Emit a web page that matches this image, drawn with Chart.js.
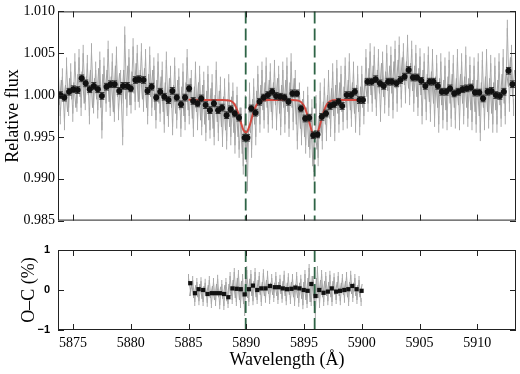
<!DOCTYPE html>
<html>
<head>
<meta charset="utf-8">
<script src="https://cdn.jsdelivr.net/npm/chart.js@4.4.1/dist/chart.umd.min.js"></script>
<style>
  html, body { margin: 0; padding: 0; background: #fff; }
  #wrap { position: relative; width: 520px; height: 374px; }
  #fluxChart { position: absolute; left: 0; top: 0; }
  #ocChart { position: absolute; left: 0; top: 232px; }
</style>
</head>
<body>
<div id="wrap">
  <canvas id="fluxChart" width="520" height="232"></canvas>
  <canvas id="ocChart" width="520" height="142"></canvas>
</div>
<script>
// axis ranges and ticks
const xMin = 5873.7, xMax = 5913.35;
const xTicks = [5875, 5880, 5885, 5890, 5895, 5900, 5905, 5910];
const fluxTicks = [0.985, 0.990, 0.995, 1.000, 1.005, 1.010];
const ocTicks = [-1, 0, 1];
const naLines = [5889.95, 5895.92];

// high resolution spectrum (grey): two interleaved samplings, 0.18 A apart each
const specStart = 5873.72, specStep = 0.18, specShift = 0.09;
const specFlux = [
  1.0030, 0.9975, 1.0022, 0.9968, 1.0035, 0.9985, 1.0028, 0.9978, 1.0040, 0.9990,
  1.0045, 0.9985, 1.0050, 0.9992, 1.0038, 0.9975, 1.0052, 0.9988, 1.0030, 0.9982,
  1.0042, 0.9958, 1.0035, 0.9990, 1.0055, 0.9985, 1.0040, 0.9978, 1.0048, 0.9980,
  1.0020, 0.9950, 1.0072, 0.9985, 1.0045, 0.9988, 1.0058, 0.9992, 1.0050, 0.9995,
  1.0052, 0.9990, 1.0045, 0.9975, 1.0048, 0.9985, 1.0035, 0.9970, 1.0040, 0.9978,
  1.0030, 0.9965, 1.0042, 0.9972, 1.0025, 0.9962, 1.0035, 0.9970, 1.0022, 0.9960,
  1.0028, 0.9968, 1.0045, 0.9975, 1.0020, 0.9960, 1.0030, 0.9968, 1.0025, 0.9962,
  1.0018, 0.9955, 1.0025, 0.9958, 1.0015, 0.9950, 1.0030, 0.9955, 1.0012, 0.9948,
  1.0010, 0.9945, 1.0015, 0.9950, 1.0005, 0.9940, 1.0000, 0.9935, 0.9975, 0.9915,
  0.9990, 0.9895, 1.0005, 0.9935, 1.0010, 0.9950, 1.0025, 0.9965, 1.0030, 0.9970,
  1.0035, 0.9965, 1.0028, 0.9970, 1.0032, 0.9968, 1.0025, 0.9962, 1.0030, 0.9965,
  1.0035, 0.9960, 1.0040, 0.9968, 1.0020, 0.9945, 1.0005, 0.9950, 0.9995, 0.9940,
  1.0000, 0.9935, 0.9985, 0.9908, 0.9990, 0.9925, 1.0005, 0.9945, 1.0010, 0.9955,
  1.0020, 0.9960, 1.0028, 0.9955, 1.0032, 0.9965, 1.0025, 0.9968, 1.0035, 0.9970,
  1.0040, 0.9972, 1.0030, 0.9965, 1.0025, 0.9962, 1.0025, 0.9975, 1.0045, 0.9990,
  1.0052, 0.9990, 1.0048, 0.9985, 1.0045, 0.9978, 1.0042, 0.9988, 1.0050, 0.9985,
  1.0048, 0.9982, 1.0055, 0.9990, 1.0060, 0.9995, 1.0052, 1.0000, 1.0062, 0.9998,
  1.0055, 0.9990, 1.0050, 0.9985, 1.0046, 0.9975, 1.0040, 0.9980, 1.0048, 0.9978,
  1.0045, 0.9972, 1.0038, 0.9965, 1.0040, 0.9970, 1.0035, 0.9968, 1.0042, 0.9972,
  1.0038, 0.9970, 1.0045, 0.9968, 1.0040, 0.9975, 1.0048, 0.9972, 1.0036, 0.9968,
  1.0035, 0.9965, 1.0040, 0.9955, 1.0042, 0.9968, 1.0045, 0.9970, 1.0038, 0.9965,
  1.0035, 0.9965, 1.0040, 0.9972, 1.0045, 0.9975, 1.0080, 0.9990, 1.0050, 0.9985
];
const specFluxB = [
  0.9988, 1.0018, 0.9992, 1.0012, 0.9980, 1.0020, 0.9995, 1.0015, 0.9985, 1.0025,
  0.9998, 1.0028, 0.9990, 1.0022, 1.0000, 1.0030, 0.9985, 1.0020, 0.9995, 1.0032,
  0.9985, 1.0025, 1.0000, 1.0030, 0.9992, 1.0022, 0.9980, 1.0035, 0.9998, 1.0026,
  0.9990, 1.0030, 0.9995, 1.0035, 0.9988, 1.0028, 1.0002, 1.0038, 0.9992, 1.0030,
  0.9995, 1.0032, 0.9985, 1.0025, 0.9998, 1.0030, 0.9982, 1.0018, 0.9990, 1.0022,
  0.9980, 1.0015, 0.9975, 1.0020, 0.9985, 1.0012, 0.9978, 1.0018, 0.9982, 1.0010,
  0.9975, 1.0015, 0.9982, 1.0020, 0.9972, 1.0010, 0.9980, 1.0015, 0.9970, 1.0012,
  0.9965, 1.0005, 0.9970, 1.0008, 0.9960, 1.0000, 0.9968, 1.0005, 0.9962, 0.9998,
  0.9958, 0.9995, 0.9962, 0.9998, 0.9955, 0.9990, 0.9950, 0.9985, 0.9930, 0.9965,
  0.9920, 0.9962, 0.9955, 0.9995, 0.9965, 1.0005, 0.9975, 1.0012, 0.9982, 1.0015,
  0.9985, 1.0018, 0.9980, 1.0015, 0.9988, 1.0020, 0.9978, 1.0012, 0.9985, 1.0018,
  0.9980, 1.0015, 0.9985, 1.0020, 0.9965, 1.0002, 0.9960, 0.9995, 0.9950, 0.9985,
  0.9938, 0.9970, 0.9915, 0.9958, 0.9935, 0.9975, 0.9955, 0.9992, 0.9965, 1.0000,
  0.9972, 1.0008, 0.9975, 1.0012, 0.9978, 1.0015, 0.9980, 1.0010, 0.9985, 1.0018,
  0.9982, 1.0015, 0.9978, 1.0012, 0.9980, 1.0010, 0.9985, 1.0020, 0.9998, 1.0032,
  1.0000, 1.0035, 0.9995, 1.0030, 1.0002, 1.0038, 0.9998, 1.0028, 1.0005, 1.0035,
  1.0002, 1.0040, 1.0008, 1.0042, 1.0010, 1.0045, 1.0012, 1.0040, 1.0008, 1.0038,
  1.0005, 1.0035, 0.9998, 1.0032, 1.0000, 1.0030, 0.9995, 1.0025, 0.9992, 1.0028,
  0.9990, 1.0022, 0.9985, 1.0020, 0.9988, 1.0018, 0.9982, 1.0022, 0.9990, 1.0025,
  0.9985, 1.0020, 0.9988, 1.0025, 0.9990, 1.0022, 0.9985, 1.0020, 0.9982, 1.0018,
  0.9980, 1.0018, 0.9975, 1.0015, 0.9985, 1.0022, 0.9980, 1.0020, 0.9978, 1.0015,
  0.9982, 1.0018, 0.9988, 1.0025, 0.9990, 1.0030, 1.0010, 1.0045, 0.9998, 1.0030
];
const specErr = 0.0010;

// binned points (black)
const binWl = [
  5873.90, 5874.25, 5874.66, 5875.03, 5875.40, 5875.75, 5876.10, 5876.45, 5876.80, 5877.15,
  5877.50, 5877.90, 5878.25, 5878.60, 5879.00, 5879.33, 5879.70, 5880.00, 5880.40, 5880.70,
  5881.10, 5881.45, 5881.80, 5882.20, 5882.55, 5882.90, 5883.26, 5883.60, 5883.98, 5884.35,
  5884.70, 5885.05, 5885.40, 5885.78, 5886.10, 5886.48, 5886.85, 5887.20, 5887.56, 5887.90,
  5888.30, 5888.65, 5889.00, 5889.37, 5889.86, 5890.10, 5890.43, 5890.80, 5891.15, 5891.50,
  5891.87, 5892.24, 5892.58, 5892.94, 5893.30, 5893.65, 5894.00, 5894.38, 5894.73, 5895.10,
  5895.45, 5895.80, 5896.17, 5896.54, 5896.90, 5897.26, 5897.60, 5897.98, 5898.30, 5898.70,
  5899.07, 5899.40, 5899.80, 5900.10, 5900.50, 5900.85, 5901.20, 5901.57, 5901.90, 5902.28,
  5902.60, 5903.00, 5903.34, 5903.70, 5904.06, 5904.43, 5904.78, 5905.15, 5905.50, 5905.87,
  5906.20, 5906.58, 5906.93, 5907.30, 5907.64, 5908.00, 5908.35, 5908.73, 5909.08, 5909.45,
  5909.80, 5910.17, 5910.50, 5910.90, 5911.23, 5911.60, 5911.95, 5912.30, 5912.70, 5913.04
];
const binFlux = [
  1.0000, 0.9997, 1.0004, 1.0007, 1.0006, 1.0020, 1.0014, 1.0007, 1.0011, 1.0007,
  0.9999, 1.0010, 1.0013, 1.0013, 1.0005, 1.0011, 1.0011, 1.0008, 1.0018, 1.0019,
  1.0018, 1.0005, 1.0010, 0.9997, 1.0004, 0.9998, 0.9994, 1.0005, 0.9997, 0.9989,
  0.9997, 1.0008, 0.9993, 0.9990, 0.9996, 0.9988, 0.9982, 0.9990, 0.9982, 0.9985,
  0.9976, 0.9983, 0.9978, 0.9973, 0.9949, 0.9949, 0.9984, 0.9979, 0.9992, 0.9997,
  1.0000, 1.0004, 0.9999, 0.9998, 0.9997, 0.9992, 1.0002, 1.0002, 0.9984, 0.9972,
  0.9973, 0.9952, 0.9953, 0.9974, 0.9978, 0.9987, 0.9989, 0.9992, 0.9987, 1.0000,
  1.0000, 1.0004, 0.9994, 0.9994, 1.0016, 1.0016, 1.0019, 1.0014, 1.0011, 1.0016,
  1.0016, 1.0014, 1.0018, 1.0022, 1.0030, 1.0021, 1.0021, 1.0017, 1.0011, 1.0016,
  1.0016, 1.0011, 1.0004, 1.0004, 1.0008, 1.0002, 1.0004, 1.0007, 1.0008, 1.0009,
  1.0003, 1.0003, 0.9996, 1.0004, 1.0005, 1.0000, 0.9999, 1.0004, 1.0029, 1.0013
];
const binErr = 0.0004;

// fitted model (red)
const modelWl = [
  5885.0, 5886.0, 5887.0, 5888.0, 5888.5, 5888.75, 5889.0, 5889.25, 5889.5, 5889.75,
  5890.0, 5890.25, 5890.5, 5890.75, 5891.0, 5891.25, 5891.5, 5892.0, 5893.0, 5894.0,
  5894.5, 5894.75, 5895.0, 5895.25, 5895.5, 5895.75, 5896.0, 5896.25, 5896.5, 5896.75,
  5897.0, 5897.25, 5897.5, 5898.0, 5899.0, 5900.0
];
const modelFlux = [
  0.99945, 0.99942, 0.9994, 0.9994, 0.99936, 0.99923, 0.99885, 0.99805, 0.99689, 0.99582,
  0.99552, 0.99619, 0.99738, 0.99843, 0.99904, 0.9993, 0.99937, 0.9994, 0.9994, 0.9994,
  0.99934, 0.99916, 0.9987, 0.99779, 0.99653, 0.99543, 0.99512, 0.99581, 0.99705, 0.9982,
  0.99893, 0.99925, 0.99937, 0.9994, 0.9994, 0.9994
];

// residuals in %, grey sampled every 0.18 A from 5885.0 (two interleaved samplings)
const ocSpecStart = 5885.0, ocSpecStep = 0.18;
const ocSpec = [
  0.30, -0.05, 0.25, -0.30, 0.20, -0.28, 0.22, -0.30, 0.18, -0.32,
  0.25, -0.35, 0.20, -0.30, 0.28, -0.38, 0.15, -0.40, 0.20, -0.35,
  0.35, -0.25, 0.45, -0.30, 0.40, -0.35, 0.30, -0.55, 0.50, -0.30,
  0.40, -0.28, 0.45, -0.25, 0.35, -0.30, 0.42, -0.22, 0.38, -0.25,
  0.30, -0.20, 0.35, -0.25, 0.28, -0.22, 0.38, -0.28, 0.32, -0.25,
  0.30, -0.30, 0.35, -0.32, 0.28, -0.38, 0.40, -0.35, 0.55, -0.30,
  0.25, -0.60, 0.50, -0.35, 0.40, -0.30, 0.35, -0.28, 0.38, -0.30,
  0.32, -0.25, 0.35, -0.28, 0.30, -0.22, 0.35, -0.30, 0.38, -0.20,
  0.30, -0.25, 0.25, -0.30
];
const ocSpecB = [
  -0.15, 0.18, -0.20, 0.12, -0.18, 0.15, -0.22, 0.10, -0.15, 0.12,
  -0.20, 0.10, -0.25, 0.15, -0.18, 0.08, -0.22, 0.12, -0.28, 0.15,
  -0.15, 0.25, -0.20, 0.30, -0.25, 0.22, -0.35, 0.30, -0.20, 0.28,
  -0.15, 0.22, -0.18, 0.25, -0.12, 0.20, -0.15, 0.25, -0.10, 0.18,
  -0.12, 0.18, -0.15, 0.20, -0.10, 0.22, -0.15, 0.18, -0.12, 0.20,
  -0.18, 0.15, -0.20, 0.18, -0.22, 0.20, -0.25, 0.30, -0.30, 0.35,
  -0.40, 0.30, -0.20, 0.25, -0.18, 0.22, -0.15, 0.20, -0.18, 0.22,
  -0.12, 0.20, -0.15, 0.18, -0.12, 0.22, -0.18, 0.20, -0.10, 0.18,
  -0.15, 0.12, -0.18, 0.15
];
const ocSpecErr = 0.10;
const ocWl = [
  5885.15, 5885.56, 5885.87, 5886.27, 5886.65, 5887.02, 5887.37, 5887.71, 5888.08, 5888.45,
  5888.80, 5889.17, 5889.52, 5889.86, 5890.23, 5890.58, 5890.95, 5891.30, 5891.67, 5892.05,
  5892.47, 5892.81, 5893.16, 5893.53, 5893.91, 5894.25, 5894.60, 5894.97, 5895.31, 5895.63,
  5896.00, 5896.32, 5896.69, 5897.06, 5897.40, 5897.78, 5898.12, 5898.49, 5898.84, 5899.18,
  5899.55, 5899.98
];
const ocBin = [
  0.17, -0.08, 0.02, 0.00, -0.10, -0.08, -0.08, -0.08, -0.10, -0.18,
  0.04, 0.03, 0.02, -0.11, 0.02, 0.11, 0.00, 0.04, 0.04, 0.10,
  0.07, 0.07, 0.04, 0.02, 0.03, 0.06, 0.04, 0.00, -0.02, 0.15,
  -0.15, 0.00, -0.07, -0.04, 0.04, -0.04, -0.02, 0.00, 0.02, 0.10,
  0.02, -0.02
];

const serif = "'Liberation Serif', 'DejaVu Serif', serif";

// frame with inward ticks, dashed Na lines, error bars
const panelDecor = {
  id: 'panelDecor',
  afterDatasetDraw(chart, args) {
    if (args.index !== 1) return;   // after both grey spectra
    const { ctx, chartArea: a, scales: { x } } = chart;
    ctx.save();
    ctx.strokeStyle = '#2e6446';
    ctx.lineWidth = 1.8;
    ctx.setLineDash([12, 5]);
    naLines.forEach(w => {
      const px = x.getPixelForValue(w);
      ctx.beginPath();
      ctx.moveTo(px, a.top);
      ctx.lineTo(px, a.bottom);
      ctx.stroke();
    });
    ctx.restore();
  },
  beforeDatasetDraw(chart, args) {
    const ds = chart.data.datasets[args.index];
    if (!ds.errors) return;
    const { ctx, chartArea: a, scales: { x, y } } = chart;
    const cap = ds.errCap || 0;
    ctx.save();
    ctx.beginPath();
    ctx.rect(a.left, a.top, a.right - a.left, a.bottom - a.top);
    ctx.clip();
    ctx.strokeStyle = ds.errColor;
    ctx.lineWidth = 1;
    ctx.beginPath();
    ds.data.forEach(p => {
      const px = x.getPixelForValue(p.x);
      const y1 = y.getPixelForValue(p.y + ds.errors);
      const y2 = y.getPixelForValue(p.y - ds.errors);
      ctx.moveTo(px, y1); ctx.lineTo(px, y2);
      if (cap) {
        ctx.moveTo(px - cap, y1); ctx.lineTo(px + cap, y1);
        ctx.moveTo(px - cap, y2); ctx.lineTo(px + cap, y2);
      }
    });
    ctx.stroke();
    ctx.restore();
  },
  afterDraw(chart, args, opts) {
    const { ctx, chartArea: a, scales: { x, y } } = chart;
    const tl = 6;
    ctx.save();
    ctx.strokeStyle = '#222';
    ctx.lineWidth = 1;
    ctx.strokeRect(a.left + 0.5, a.top + 0.5, a.right - a.left - 1, a.bottom - a.top - 1);
    ctx.beginPath();
    xTicks.forEach(v => {
      const px = Math.round(x.getPixelForValue(v)) + 0.5;
      ctx.moveTo(px, a.top); ctx.lineTo(px, a.top + tl);
      ctx.moveTo(px, a.bottom); ctx.lineTo(px, a.bottom - tl);
    });
    opts.yTicks.forEach(v => {
      const py = Math.round(y.getPixelForValue(v)) + 0.5;
      ctx.moveTo(a.left, py); ctx.lineTo(a.left + tl, py);
      ctx.moveTo(a.right, py); ctx.lineTo(a.right - tl, py);
    });
    ctx.stroke();
    ctx.restore();
  }
};

new Chart(document.getElementById('fluxChart'), {
  type: 'line',
  data: {
    datasets: [
      {
        data: specFlux.map((v, i) => ({ x: specStart + i * specStep, y: v })),
        errors: specErr,
        errColor: '#a8a8a8',
        borderColor: '#ababab',
        borderWidth: 1,
        pointRadius: 0,
        order: 4
      },
      {
        data: specFluxB.map((v, i) => ({ x: specStart + specShift + i * specStep, y: v })),
        borderColor: '#a0a0a0',
        borderWidth: 1,
        pointRadius: 0,
        order: 3
      },
      {
        data: modelWl.map((w, i) => ({ x: w, y: modelFlux[i] })),
        borderColor: '#d4483f',
        borderWidth: 2,
        pointRadius: 0,
        cubicInterpolationMode: 'monotone',
        order: 2
      },
      {
        data: binWl.map((w, i) => ({ x: w, y: binFlux[i] })),
        errors: binErr,
        errCap: 2.5,
        errColor: '#333',
        showLine: false,
        pointRadius: 3,
        pointBackgroundColor: '#111',
        pointBorderWidth: 0,
        order: 1
      }
    ]
  },
  options: {
    responsive: false,
    animation: false,
    layout: { padding: { top: 8, right: 2, bottom: 3, left: 0 } },
    plugins: {
      legend: { display: false },
      tooltip: { enabled: false },
      panelDecor: { yTicks: fluxTicks }
    },
    scales: {
      x: { type: 'linear', min: xMin, max: xMax, display: false },
      y: {
        min: 0.985, max: 1.010,
        afterFit: s => { s.width = 58; },
        afterBuildTicks: s => { s.ticks = fluxTicks.map(v => ({ value: v })); },
        grid: { display: false, drawTicks: false },
        border: { display: false },
        ticks: {
          color: '#000',
          padding: 3,
          font: { family: serif, size: 14 },
          callback: v => v.toFixed(3)
        },
        title: {
          display: true,
          text: 'Relative flux',
          color: '#000',
          padding: { top: 2, bottom: 0 },
          font: { family: serif, size: 18 }
        }
      }
    }
  },
  plugins: [panelDecor]
});

new Chart(document.getElementById('ocChart'), {
  type: 'line',
  data: {
    datasets: [
      {
        data: ocSpec.map((v, i) => ({ x: ocSpecStart + i * ocSpecStep, y: v })),
        errors: ocSpecErr,
        errColor: '#a8a8a8',
        borderColor: '#ababab',
        borderWidth: 1,
        pointRadius: 0,
        order: 3
      },
      {
        data: ocSpecB.map((v, i) => ({ x: ocSpecStart + specShift + i * ocSpecStep, y: v })),
        borderColor: '#a0a0a0',
        borderWidth: 1,
        pointRadius: 0,
        order: 2
      },
      {
        data: ocWl.map((w, i) => ({ x: w, y: ocBin[i] })),
        showLine: false,
        pointStyle: 'rect',
        pointRadius: 3,
        pointBackgroundColor: '#111',
        pointBorderWidth: 0,
        order: 1
      }
    ]
  },
  options: {
    responsive: false,
    animation: false,
    layout: { padding: { top: 18, right: 2, bottom: 0, left: 0 } },
    plugins: {
      legend: { display: false },
      tooltip: { enabled: false },
      panelDecor: { yTicks: ocTicks }
    },
    scales: {
      x: {
        type: 'linear', min: xMin, max: xMax,
        afterFit: s => { s.height = 44; },
        afterBuildTicks: s => { s.ticks = xTicks.map(v => ({ value: v })); },
        grid: { display: false, drawTicks: false },
        border: { display: false },
        ticks: {
          color: '#000',
          padding: 5,
          maxRotation: 0,
          font: { family: serif, size: 14 },
          callback: v => String(v)
        },
        title: {
          display: true,
          text: 'Wavelength (Å)',
          color: '#000',
          padding: { top: 0, bottom: 3 },
          font: { family: serif, size: 18 }
        }
      },
      y: {
        min: -1, max: 1,
        afterFit: s => { s.width = 58; },
        afterBuildTicks: s => { s.ticks = ocTicks.map(v => ({ value: v })); },
        grid: { display: false, drawTicks: false },
        border: { display: false },
        ticks: {
          color: '#000',
          padding: 8,
          font: { family: "'Liberation Sans', Arial, sans-serif", size: 11, weight: 'bold' },
          callback: v => String(v).replace('-', '\u2212')
        },
        title: {
          display: true,
          text: 'O\u2013C (%)',
          color: '#000',
          padding: { top: 18, bottom: 0 },
          font: { family: serif, size: 18 }
        }
      }
    }
  },
  plugins: [panelDecor]
});
</script>
</body>
</html>
